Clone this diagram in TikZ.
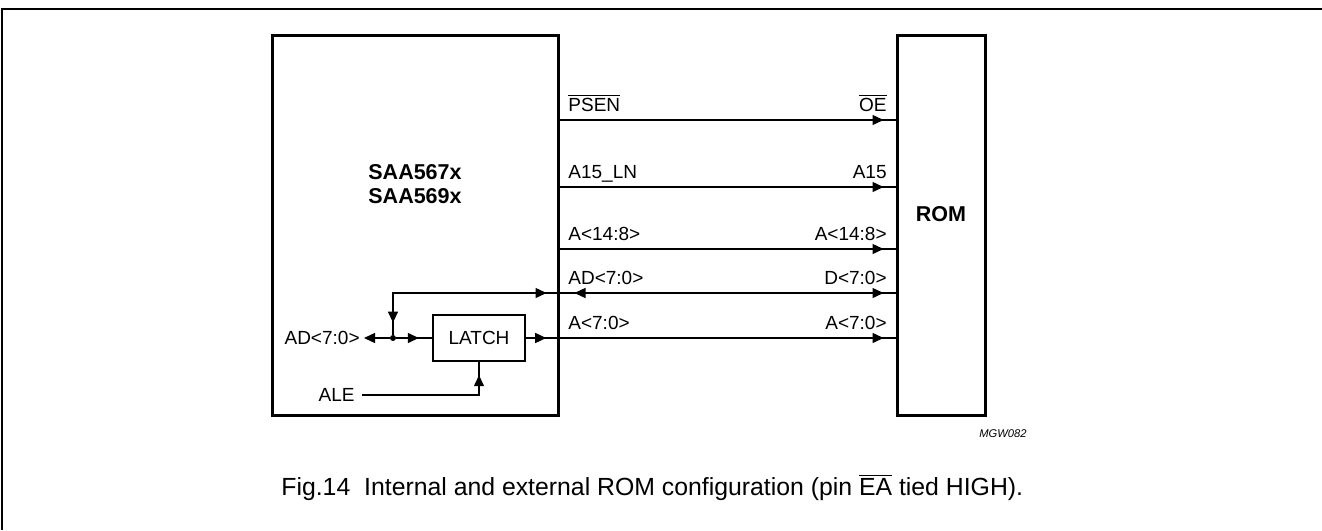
\documentclass[tikz,border=0pt]{standalone}
\usepackage{fontspec}
\setmainfont{Liberation Sans}
\usetikzlibrary{arrows.meta,decorations.markings}
\newcommand{\ovl}[1]{$\overline{\mbox{#1}}$}
\newcommand{\lblfont}{\fontsize{9.5}{11}\selectfont}
\newcommand{\capfont}{\fontsize{12.4}{14}\selectfont}
\tikzset{
  >={Triangle[length=5.5pt,width=5pt]},
  frame/.style={line width=1pt},
  blk-chip/.style={draw,line width=1.5pt,minimum width=143pt,
    minimum height=190pt,inner sep=0pt},
  blk-latch/.style={draw,line width=1.2pt,minimum width=46pt,
    minimum height=23pt,inner sep=0pt,font=\lblfont},
  sig/.style={line width=0.7pt},
  lbl/.style={inner sep=0pt,font=\lblfont},
  lbl-bold/.style={inner sep=0pt,align=center,
    font=\fontsize{10.75}{12}\selectfont\bfseries},
  lbl-cap/.style={inner sep=0pt,font=\capfont},
  lbl-tag/.style={inner sep=0pt,font=\fontsize{5.6}{7}\selectfont\itshape},
  junction/.style={circle,fill,inner sep=0pt,minimum size=3pt},
  % arrow head placed on the line, not at its end
  fwd/.style={postaction={decorate,decoration={markings,
    mark=at position #1 with {\arrow{>}}}}},
  rev/.style={postaction={decorate,decoration={markings,
    mark=at position #1 with {\arrowreversed{>}}}}},
}
\begin{document}
\begin{tikzpicture}[x=0.5pt,y=-0.5pt]
  \useasboundingbox (0,0) rectangle (1322,530);
  \draw[frame] (2,530) -- (2,9) -- (1322,9);

  \node[blk-chip] (cpu) at (415,225) {};
  \node[blk-chip,minimum width=44pt] (rom) at (941,225) {};
  \node[lbl-bold] (cpuname) at (415,184) {SAA567x\\SAA569x};
  \node[lbl-bold] (romname) at (941,214) {ROM};
  \node[blk-latch] (latch) at (479,338) {LATCH};

  % one-way buses
  \foreach \y/\ltxt/\rtxt [count=\i] in {120/{\ovl{PSEN}}/{\ovl{OE}},
      187/{A15\_LN}/{A15}, 249/{A<14:8>}/{A<14:8>}} {
    \draw[sig,fwd=-6pt] (cpu.east |- 0,\y) -- (rom.west |- 0,\y);
    \node[lbl,anchor=base west] (lbus\i) at (568,\y-9) {\ltxt};
    \node[lbl,anchor=base east] (rbus\i) at (887,\y-9) {\rtxt};
  }

  % data bus
  \node[junction] (jn) at (393,338) {};
  \coordinate (adtop) at (393,293);
  \draw[sig,rev=6.5pt,fwd=-6pt] (cpu.east |- adtop) -- (adtop) -- (jn);
  \draw[sig,rev=7.5pt,fwd=-6pt] (cpu.east |- adtop) -- (rom.west |- adtop);
  \node[lbl,anchor=base west] (lad) at (568,284) {AD<7:0>};
  \node[lbl,anchor=base east] (rad) at (887,284) {D<7:0>};

  % latched address
  \node[lbl,anchor=east,inner sep=2pt] (adin) at (364,338) {AD<7:0>};
  \draw[sig,->] (jn) -- (adin);
  \draw[sig,fwd=-6.5pt] (jn) -- (latch);
  \draw[sig,fwd=10pt,fwd=-6pt] (latch) -- (rom.west |- latch.east);
  \node[lbl,anchor=base west] (lal) at (568,329) {A<7:0>};
  \node[lbl,anchor=base east] (ral) at (887,329) {A<7:0>};

  \node[lbl,anchor=east,inner sep=3.5pt] (ale) at (362,395) {ALE};
  \draw[sig,fwd=-6.5pt] (ale.east) -| (latch.south);

  \node[lbl-tag,anchor=base east] (tag) at (1027,437) {MGW082};
  \node[lbl-cap,anchor=base west] (caption) at (281,495)
    {Fig.14\hspace{0.56em}Internal and external ROM configuration (pin \ovl{EA} tied HIGH).};
\end{tikzpicture}
\end{document}
